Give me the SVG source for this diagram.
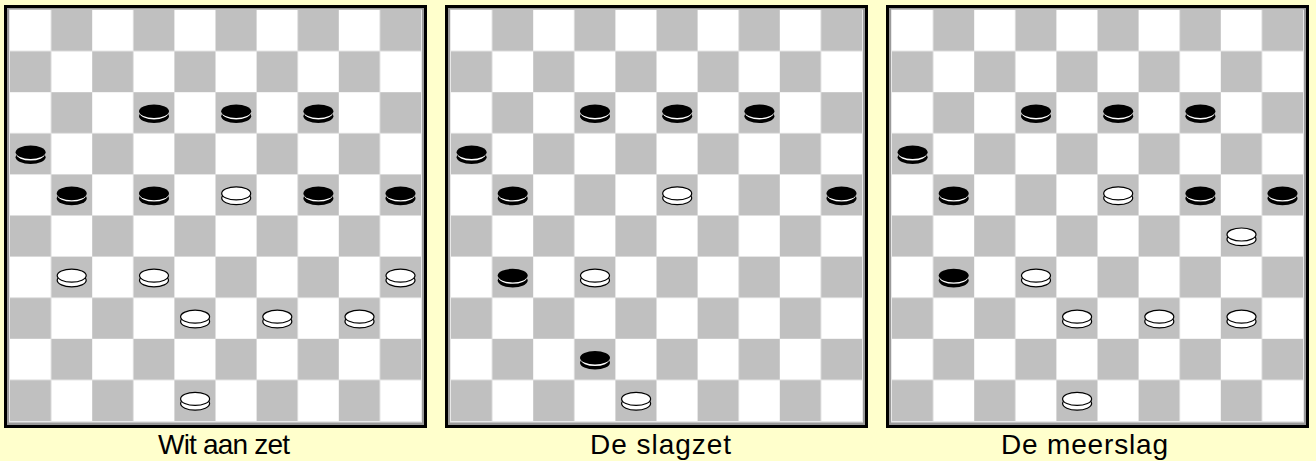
<svg xmlns="http://www.w3.org/2000/svg" xmlns:xlink="http://www.w3.org/1999/xlink" width="1316" height="461" viewBox="0 0 1316 461">
<style>
.lbl{font-family:"Liberation Sans",Arial,sans-serif;font-size:28px;fill:#000}
</style>
<defs>
<pattern id="chk" patternUnits="userSpaceOnUse" x="10" y="10" width="82.2" height="82.2">
<rect x="0" y="0" width="82.2" height="82.2" fill="#fff"/>
<rect x="41.1" y="0" width="41.1" height="41.1" fill="#c0c0c0"/>
<rect x="0" y="41.1" width="41.1" height="41.1" fill="#c0c0c0"/>
</pattern>
<g id="frame">
<rect x="4" y="5" width="423" height="423" fill="#000"/>
<rect x="7" y="8" width="417" height="417" fill="#9a9a9a"/>
<rect x="9" y="9.5" width="413" height="413" fill="#e8e8e8"/>
<rect x="10" y="10" width="411" height="411" fill="url(#chk)"/>
</g>
<g id="bp">
<ellipse cx="0" cy="3.5" rx="15" ry="6.8" fill="#000"/>
<ellipse cx="0" cy="0.3" rx="14.2" ry="6.4" fill="#fff"/>
<ellipse cx="0" cy="-1.5" rx="15" ry="6.8" fill="#000"/>
</g>
<g id="wp">
<ellipse cx="0" cy="3.2" rx="14.5" ry="6.5" fill="#fff" stroke="#000" stroke-width="1.2"/>
<ellipse cx="0" cy="-1.5" rx="14.5" ry="6.5" fill="#fff" stroke="#000" stroke-width="1.2"/>
</g>
</defs>
<rect x="0" y="0" width="1316" height="461" fill="#ffffcc"/>

<g id="board1">
<use xlink:href="#frame"/>
<use xlink:href="#bp" x="154" y="112.7"/>
<use xlink:href="#bp" x="236.2" y="112.7"/>
<use xlink:href="#bp" x="318.4" y="112.7"/>
<use xlink:href="#bp" x="30.6" y="153.8"/>
<use xlink:href="#bp" x="71.7" y="194.9"/>
<use xlink:href="#bp" x="154" y="194.9"/>
<use xlink:href="#wp" x="236.2" y="194.9"/>
<use xlink:href="#bp" x="318.4" y="194.9"/>
<use xlink:href="#bp" x="400.5" y="194.9"/>
<use xlink:href="#wp" x="71.7" y="277.1"/>
<use xlink:href="#wp" x="154" y="277.1"/>
<use xlink:href="#wp" x="400.5" y="277.1"/>
<use xlink:href="#wp" x="195.1" y="318.2"/>
<use xlink:href="#wp" x="277.3" y="318.2"/>
<use xlink:href="#wp" x="359.5" y="318.2"/>
<use xlink:href="#wp" x="195.1" y="400.4"/>
<text class="lbl" x="158" y="454" textLength="132">Wit aan zet</text>
</g>

<g id="board2" transform="translate(441,0)">
<use xlink:href="#frame"/>
<use xlink:href="#bp" x="154" y="112.7"/>
<use xlink:href="#bp" x="236.2" y="112.7"/>
<use xlink:href="#bp" x="318.4" y="112.7"/>
<use xlink:href="#bp" x="30.6" y="153.8"/>
<use xlink:href="#bp" x="71.7" y="194.9"/>
<use xlink:href="#wp" x="236.2" y="194.9"/>
<use xlink:href="#bp" x="400.5" y="194.9"/>
<use xlink:href="#bp" x="71.7" y="277.1"/>
<use xlink:href="#wp" x="154" y="277.1"/>
<use xlink:href="#bp" x="154" y="359.3"/>
<use xlink:href="#wp" x="195.1" y="400.4"/>
<text class="lbl" x="149" y="454" textLength="141">De slagzet</text>
</g>

<g id="board3" transform="translate(882,0)">
<use xlink:href="#frame"/>
<use xlink:href="#bp" x="154" y="112.7"/>
<use xlink:href="#bp" x="236.2" y="112.7"/>
<use xlink:href="#bp" x="318.4" y="112.7"/>
<use xlink:href="#bp" x="30.6" y="153.8"/>
<use xlink:href="#bp" x="71.7" y="194.9"/>
<use xlink:href="#wp" x="236.2" y="194.9"/>
<use xlink:href="#bp" x="318.4" y="194.9"/>
<use xlink:href="#bp" x="400.5" y="194.9"/>
<use xlink:href="#wp" x="359.5" y="236"/>
<use xlink:href="#bp" x="71.7" y="277.1"/>
<use xlink:href="#wp" x="154" y="277.1"/>
<use xlink:href="#wp" x="195.1" y="318.2"/>
<use xlink:href="#wp" x="277.3" y="318.2"/>
<use xlink:href="#wp" x="359.5" y="318.2"/>
<use xlink:href="#wp" x="195.1" y="400.4"/>
<text class="lbl" x="119" y="454" textLength="167">De meerslag</text>
</g>
</svg>
